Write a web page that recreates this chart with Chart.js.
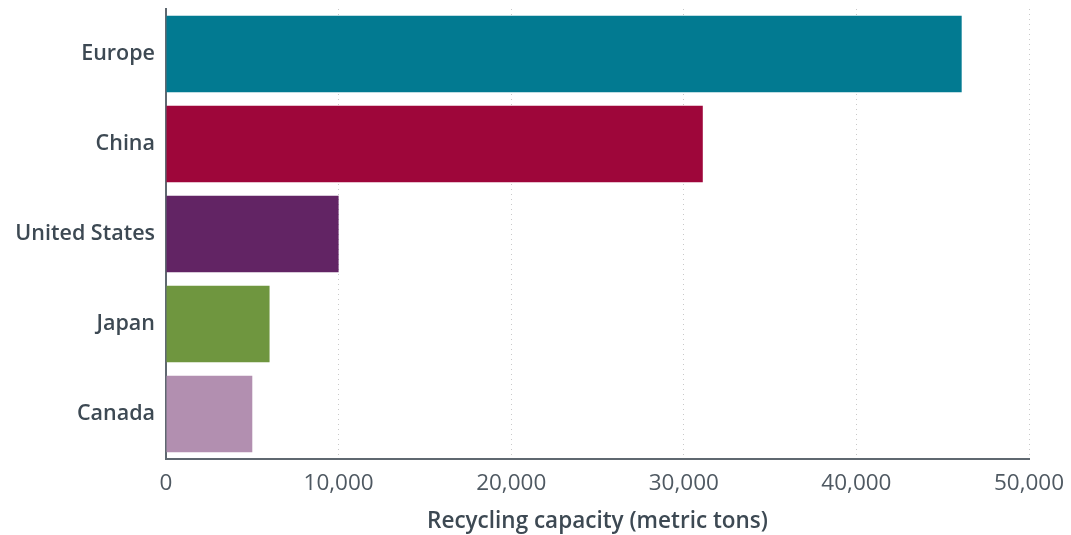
<!DOCTYPE html>
<html>
<head>
<meta charset="utf-8">
<script src="https://cdn.jsdelivr.net/npm/chart.js@4"></script>
<style>
  html, body { margin: 0; padding: 0; background: #fff; }
  #wrap { width: 1071px; height: 535px; position: relative; }
</style>
</head>
<body>
<div id="wrap"><canvas id="capacityChart"></canvas></div>
<script>
// Recycling capacity by region (metric tons)
const regions = ['Europe', 'China', 'United States', 'Japan', 'Canada'];
const capacity = [46100, 31100, 10000, 6000, 5000];
const barColors = ['#027a91', '#9e063a', '#622464', '#6f963f', '#b28fb0'];
const xTicks = [0, 10000, 20000, 30000, 40000, 50000];

const textDark = '#3d4953';
const textGray = '#4f5962';
const axisGray = '#5f6870';

document.addEventListener('DOMContentLoaded', function() {
    const ctx = document.getElementById('capacityChart').getContext('2d');
    new Chart(ctx, {
        type: 'bar',
        data: {
            labels: regions,
            datasets: [{
                label: 'Recycling capacity',
                data: capacity,
                backgroundColor: barColors,
                borderWidth: 0,
                barPercentage: 0.85,
                categoryPercentage: 1
            }]
        },
        options: {
            indexAxis: 'y',
            responsive: true,
            maintainAspectRatio: false,
            animation: false,
            layout: { padding: { top: 9, right: 42, left: 0, bottom: 0 } },
            plugins: {
                legend: { display: false },
                tooltip: { enabled: false }
            },
            scales: {
                x: {
                    type: 'linear',
                    min: xTicks[0],
                    max: xTicks[xTicks.length - 1],
                    afterBuildTicks: function(scale) {
                        scale.ticks = xTicks.map(v => ({ value: v }));
                    },
                    afterFit: function(scale) {
                        scale.height = 76;
                        scale.paddingLeft = 0;
                        scale.paddingRight = 0;
                    },
                    grid: { color: '#c9c9c9', lineWidth: 1, drawTicks: false },
                    border: { display: true, color: axisGray, width: 2, dash: [1, 4] },
                    ticks: {
                        padding: 11,
                        color: textGray,
                        font: { family: 'Open Sans', size: 22.5, weight: '400' },
                        callback: function(value) { return value.toLocaleString('en-US'); }
                    },
                    title: {
                        display: true,
                        text: 'Recycling capacity (metric tons)',
                        color: textDark,
                        font: { family: 'Open Sans', size: 22.5, weight: '600' },
                        padding: { top: 4, bottom: 0 }
                    }
                },
                y: {
                    type: 'category',
                    afterFit: function(scale) {
                        scale.width = 166;
                        scale.paddingTop = 0;
                        scale.paddingBottom = 0;
                    },
                    grid: { display: false, drawTicks: false },
                    border: { display: true, color: axisGray, width: 2 },
                    ticks: {
                        padding: 11,
                        color: textDark,
                        font: { family: 'Open Sans', size: 21.5, weight: '600' }
                    }
                }
            }
        }
    });
});
</script>
</body>
</html>
